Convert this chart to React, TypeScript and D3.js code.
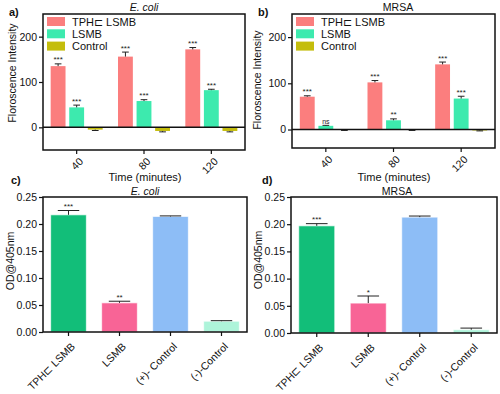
import { useRef, useEffect } from 'react';
import * as d3 from 'd3';

const TIMES = ['40', '80', '120'];
const SERIES = ['TPH⊏ LSMB', 'LSMB', 'Control'];
const SERIES_COLORS = ['#fb7e7e', '#3deaae', '#c4bd0c'];

// fluorescence, one row per series, one column per time
const ECOLI_FLUO = [[135, 156, 172], [44, 58, 82], [-5, -8, -8]];
const ECOLI_FLUO_ERR = [[5, 10, 4], [5, 3, 2], [2, 2, 2]];
const ECOLI_FLUO_SIG = [['***', '***', '***'], ['***', '***', '***'], ['', '', '']];

const MRSA_FLUO = [[71, 102, 141], [8, 20, 67], [-1, -1, -2]];
const MRSA_FLUO_ERR = [[2, 4, 5], [1, 3, 5], [1, 1, 1]];
const MRSA_FLUO_SIG = [['***', '***', '***'], ['ns', '**', '***'], ['', '', '']];

const FLUO_TICKS = [0, 100, 200];

const GROUPS = ['TPH⊏ LSMB', 'LSMB', '(+)- Control', '(-)-Control'];
const GROUP_COLORS = ['#12be79', '#f86496', '#8dbdf6', '#aef4da'];

const ECOLI_OD = [0.217, 0.054, 0.214, 0.02];
const ECOLI_OD_ERR = [0.008, 0.003, 0.001, 0.001];
const ECOLI_OD_SIG = ['***', '**', '', ''];

const MRSA_OD = [0.197, 0.055, 0.213, 0.006];
const MRSA_OD_ERR = [0.004, 0.013, 0.002, 0.003];
const MRSA_OD_SIG = ['***', '*', '', ''];

const OD_TICKS = [0, 0.05, 0.1, 0.15, 0.2, 0.25];

const FONT = 'Liberation Sans, Arial, sans-serif';

type Sel = d3.Selection<SVGSVGElement, unknown, null, undefined>;

interface Box { left: number; right: number; top: number; bottom: number }

function frame(svg: Sel, b: Box) {
  svg.append('rect')
    .attr('x', b.left).attr('y', b.top)
    .attr('width', b.right - b.left).attr('height', b.bottom - b.top)
    .attr('fill', 'none').attr('stroke', '#111').attr('stroke-width', 1.5);
}

function yAxis(svg: Sel, b: Box, y: d3.ScaleLinear<number, number>, ticks: number[], fmt: (d: number) => string) {
  const g = svg.append('g').attr('transform', `translate(${b.left},0)`)
    .call(d3.axisLeft(y).tickValues(ticks).tickSize(4).tickPadding(2).tickFormat((d) => fmt(d as number)));
  g.select('.domain').remove();
  g.selectAll('line').attr('stroke', '#111').attr('stroke-width', 1.2);
  g.selectAll('text').attr('font-family', FONT).attr('font-size', 10.5).attr('fill', '#111');
}

function xTicks(svg: Sel, b: Box, xs: number[], labels: string[], dy: number) {
  xs.forEach((x, i) => {
    svg.append('line').attr('x1', x).attr('x2', x).attr('y1', b.bottom).attr('y2', b.bottom + 4)
      .attr('stroke', '#111').attr('stroke-width', 1.2);
    svg.append('text')
      .attr('transform', `translate(${x + 2},${b.bottom + dy}) rotate(-45)`)
      .attr('text-anchor', 'end').attr('dy', '0.7em')
      .attr('font-family', FONT).attr('font-size', 10.5).attr('fill', '#111')
      .text(labels[i]);
  });
}

function errBar(svg: Sel, x: number, w: number, yv: number, ye: number) {
  svg.append('line').attr('x1', x).attr('x2', x).attr('y1', yv).attr('y2', ye)
    .attr('stroke', '#222').attr('stroke-width', 1);
  svg.append('line').attr('x1', x - w / 2).attr('x2', x + w / 2).attr('y1', ye).attr('y2', ye)
    .attr('stroke', '#222').attr('stroke-width', 1);
}

function sigText(svg: Sel, x: number, yy: number, t: string) {
  if (!t) return;
  svg.append('text').attr('x', x).attr('y', yy)
    .attr('text-anchor', 'middle').attr('font-family', FONT)
    .attr('font-size', t === 'ns' ? 7 : 8).attr('fill', '#222').text(t);
}

function text(svg: Sel, x: number, y: number, t: string, size: number, opts: { italic?: boolean; bold?: boolean; rotate?: boolean; anchor?: string } = {}) {
  svg.append('text')
    .attr('transform', opts.rotate ? `translate(${x},${y}) rotate(-90)` : `translate(${x},${y})`)
    .attr('text-anchor', opts.anchor || 'middle')
    .attr('font-family', FONT).attr('font-size', size)
    .attr('font-style', opts.italic ? 'italic' : 'normal')
    .attr('font-weight', opts.bold ? 'bold' : 'normal')
    .attr('fill', '#111').text(t);
}

function fluoPanel(svg: Sel, b: Box, ymin: number, vals: number[][], errs: number[][], sig: string[][]) {
  const y = d3.scaleLinear().domain([ymin, 250]).range([b.bottom, b.top]);
  const x0 = d3.scaleBand().domain(TIMES).range([b.left, b.right]);
  const x1 = d3.scaleBand().domain(SERIES).range([-26, 26]).paddingInner(0.2);

  SERIES.forEach((s, si) => {
    TIMES.forEach((t, ti) => {
      const v = vals[si][ti];
      const bx = (x0(t) as number) + x0.bandwidth() / 2 + (x1(s) as number);
      const bw = x1.bandwidth();
      svg.append('rect')
        .attr('x', bx).attr('width', bw)
        .attr('y', y(Math.max(0, v))).attr('height', Math.abs(y(v) - y(0)))
        .attr('fill', SERIES_COLORS[si]);
      const e = v >= 0 ? v + errs[si][ti] : v - errs[si][ti];
      errBar(svg, bx + bw / 2, bw * 0.45, y(v), y(e));
      sigText(svg, bx + bw / 2, y(e) - 1.5, sig[si][ti]);
    });
  });

  // zero line
  svg.append('line').attr('x1', b.left).attr('x2', b.right).attr('y1', y(0)).attr('y2', y(0))
    .attr('stroke', '#111').attr('stroke-width', 1.5);

  frame(svg, b);
  yAxis(svg, b, y, FLUO_TICKS, (d) => String(d));
  xTicks(svg, b, TIMES.map((t) => (x0(t) as number) + x0.bandwidth() / 2), TIMES, 7);

  // legend
  SERIES.forEach((s, i) => {
    svg.append('rect').attr('x', b.left + 4).attr('y', b.top + 3 + i * 12.3)
      .attr('width', 18).attr('height', 9).attr('fill', SERIES_COLORS[i]);
    text(svg, b.left + 29, b.top + 11.5 + i * 12.3, s, 11, { anchor: 'start' });
  });
}

function odPanel(svg: Sel, b: Box, vals: number[], errs: number[], sig: string[]) {
  const y = d3.scaleLinear().domain([0, 0.25]).range([b.bottom, b.top]);
  const x = d3.scaleBand().domain(GROUPS).range([b.left, b.right]).paddingInner(0.3).paddingOuter(0.15);

  GROUPS.forEach((g, i) => {
    const bx = x(g) as number;
    const bw = x.bandwidth();
    svg.append('rect')
      .attr('x', bx).attr('width', bw)
      .attr('y', y(vals[i])).attr('height', y(0) - y(vals[i]))
      .attr('fill', GROUP_COLORS[i]).attr('stroke', 'rgba(255,255,255,0.7)').attr('stroke-width', 1);
    const e = vals[i] + errs[i];
    errBar(svg, bx + bw / 2, bw * 0.6, y(vals[i]), y(e));
    sigText(svg, bx + bw / 2, y(e) - 1.5, sig[i]);
  });

  frame(svg, b);
  yAxis(svg, b, y, OD_TICKS, (d) => d3.format('.2f')(d));
  xTicks(svg, b, GROUPS.map((g) => (x(g) as number) + x.bandwidth() / 2), GROUPS, 10);
}

export default function App() {
  const ref = useRef<SVGSVGElement>(null);

  useEffect(() => {
    if (!ref.current) return;
    const svg = d3.select(ref.current) as Sel;
    svg.selectAll('*').remove();

    const a = { left: 43, right: 245, top: 14, bottom: 150 };
    const b = { left: 292, right: 495, top: 14, bottom: 148 };
    const c = { left: 43, right: 247, top: 197, bottom: 332 };
    const d = { left: 291, right: 497, top: 197, bottom: 333 };

    fluoPanel(svg, a, -50, ECOLI_FLUO, ECOLI_FLUO_ERR, ECOLI_FLUO_SIG);
    fluoPanel(svg, b, -40, MRSA_FLUO, MRSA_FLUO_ERR, MRSA_FLUO_SIG);
    odPanel(svg, c, ECOLI_OD, ECOLI_OD_ERR, ECOLI_OD_SIG);
    odPanel(svg, d, MRSA_OD, MRSA_OD_ERR, MRSA_OD_SIG);

    // titles
    text(svg, 144, 11, 'E. coli', 10.5, { italic: true });
    text(svg, 398, 11, 'MRSA', 10.5);
    text(svg, 145, 195, 'E. coli', 10.5, { italic: true });
    text(svg, 397, 195, 'MRSA', 10.5);

    // axis titles
    text(svg, 16, 73, 'Floroscence Intensity', 10.5, { rotate: true });
    text(svg, 261, 80, 'Floroscence Intensity', 10.5, { rotate: true });
    text(svg, 145, 181, 'Time (minutes)', 11);
    text(svg, 394, 181, 'Time (minutes)', 11);
    text(svg, 14, 261, 'OD@405nm', 10.5, { rotate: true });
    text(svg, 262, 260, 'OD@405nm', 10.5, { rotate: true });

    // panel labels
    text(svg, 9, 16, 'a)', 11, { bold: true, anchor: 'start' });
    text(svg, 258, 16, 'b)', 11, { bold: true, anchor: 'start' });
    text(svg, 11, 184, 'c)', 11, { bold: true, anchor: 'start' });
    text(svg, 262, 184, 'd)', 11, { bold: true, anchor: 'start' });
  }, []);

  return (
    <svg ref={ref} width={500} height={394}
      style={{ position: 'absolute', left: 0, top: 0, background: '#fff' }} />
  );
}
